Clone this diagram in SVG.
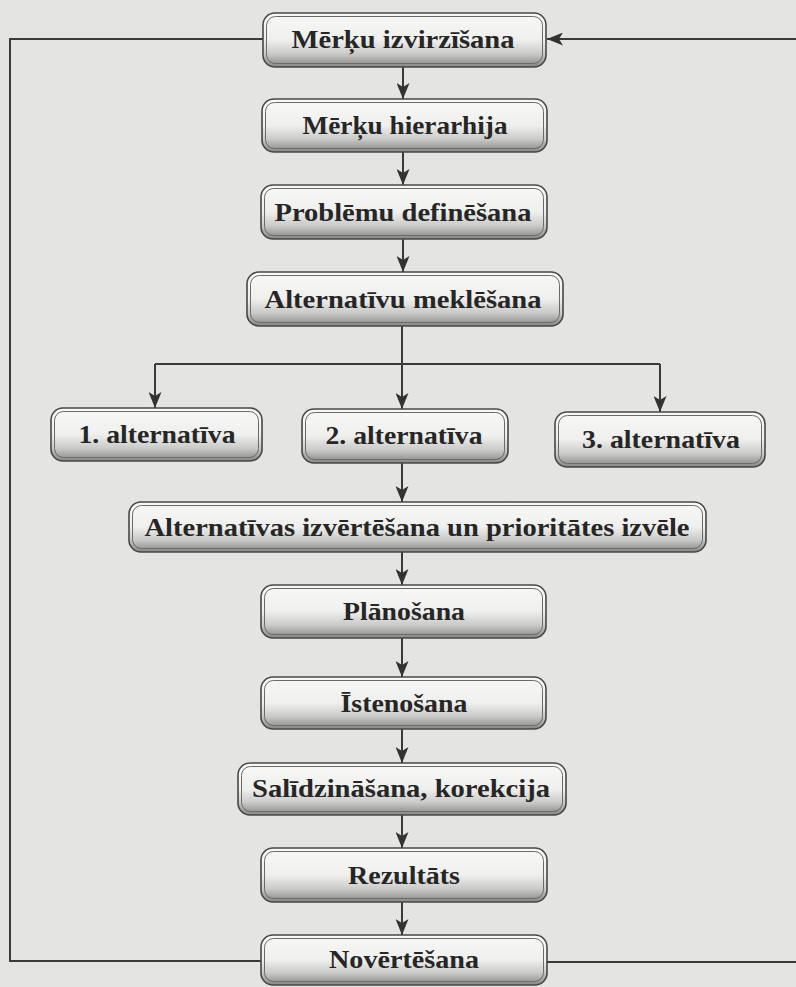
<svg xmlns="http://www.w3.org/2000/svg" width="796" height="987" viewBox="0 0 796 987">
  <style>
    .bg { fill: #e4e4e2; }
    .box-outer { fill: url(#boxFill); stroke: #474747; stroke-width: 1.6; }
    .box-inner { fill: none; stroke: #6a6a6a; stroke-width: 1; }
    .label { font-family: "Liberation Serif", "Times New Roman", serif; font-weight: bold; font-size: 26px; fill: #262626; text-anchor: middle; }
    .wire { fill: none; stroke: #3a3a3a; stroke-width: 2; }
    .arrow { fill: none; stroke: #3a3a3a; stroke-width: 2; marker-end: url(#head); }
  </style>
  <defs>
    <linearGradient id="boxFill" x1="0" y1="0" x2="0" y2="1">
      <stop offset="0" stop-color="#f8f8f6"/>
      <stop offset="0.5" stop-color="#efefed"/>
      <stop offset="0.76" stop-color="#c9c9c7"/>
      <stop offset="1" stop-color="#858583"/>
    </linearGradient>
    <marker id="head" markerUnits="userSpaceOnUse" markerWidth="16" markerHeight="13" refX="16" refY="6.5" orient="auto">
      <path d="M0,0 L16,6.5 L0,13 L4,6.5 Z" fill="#333"/>
    </marker>
  </defs>

  <rect class="bg" x="0" y="0" width="796" height="987"/>

  <!-- connectors -->
  <g id="connectors">
    <!-- feedback loop, left side -->
    <path class="wire" d="M263,39 H10 V961 H261"/>
    <!-- feedback loop, right side -->
    <path class="wire" d="M546,962 H796"/>
    <line class="arrow" x1="796" y1="39" x2="547" y2="39"/>
    <!-- main chain -->
    <line class="arrow" x1="403" y1="67" x2="403" y2="99"/>
    <line class="arrow" x1="403" y1="152" x2="403" y2="185"/>
    <line class="arrow" x1="403" y1="239" x2="403" y2="272"/>
    <!-- branch to alternatives -->
    <path class="wire" d="M402,326 V364 M155,364 H660"/>
    <line class="arrow" x1="155" y1="364" x2="155" y2="408"/>
    <line class="arrow" x1="402" y1="364" x2="402" y2="409"/>
    <line class="arrow" x1="660" y1="364" x2="660" y2="412"/>
    <line class="arrow" x1="402" y1="463" x2="402" y2="502"/>
    <line class="arrow" x1="402" y1="552" x2="402" y2="585"/>
    <line class="arrow" x1="402" y1="638" x2="402" y2="677"/>
    <line class="arrow" x1="402" y1="729" x2="402" y2="763"/>
    <line class="arrow" x1="402" y1="815" x2="402" y2="848"/>
    <line class="arrow" x1="402" y1="902" x2="402" y2="935"/>
  </g>

  <g id="n1">
    <rect class="box-outer" x="263" y="13" width="283" height="54" rx="12"/>
    <rect class="box-inner" x="266.5" y="16.5" width="276" height="47" rx="9"/>
    <text class="label" x="403" y="48" textLength="223" lengthAdjust="spacingAndGlyphs">Mērķu izvirzīšana</text>
  </g>
  <g id="n2">
    <rect class="box-outer" x="262" y="99" width="285" height="53" rx="12"/>
    <rect class="box-inner" x="265.5" y="102.5" width="278" height="46" rx="9"/>
    <text class="label" x="405" y="134" textLength="205" lengthAdjust="spacingAndGlyphs">Mērķu hierarhija</text>
  </g>
  <g id="n3">
    <rect class="box-outer" x="261" y="185" width="286" height="54" rx="12"/>
    <rect class="box-inner" x="264.5" y="188.5" width="279" height="47" rx="9"/>
    <text class="label" x="403" y="221" textLength="257" lengthAdjust="spacingAndGlyphs">Problēmu definēšana</text>
  </g>
  <g id="n4">
    <rect class="box-outer" x="247" y="272" width="316" height="54" rx="12"/>
    <rect class="box-inner" x="250.5" y="275.5" width="309" height="47" rx="9"/>
    <text class="label" x="403" y="308" textLength="277" lengthAdjust="spacingAndGlyphs">Alternatīvu meklēšana</text>
  </g>
  <g id="alt1">
    <rect class="box-outer" x="51" y="408" width="211" height="53" rx="12"/>
    <rect class="box-inner" x="54.5" y="411.5" width="204" height="46" rx="9"/>
    <text class="label" x="157" y="443" textLength="157" lengthAdjust="spacingAndGlyphs">1. alternatīva</text>
  </g>
  <g id="alt2">
    <rect class="box-outer" x="302" y="409" width="206" height="54" rx="12"/>
    <rect class="box-inner" x="305.5" y="412.5" width="199" height="47" rx="9"/>
    <text class="label" x="404" y="444" textLength="157" lengthAdjust="spacingAndGlyphs">2. alternatīva</text>
  </g>
  <g id="alt3">
    <rect class="box-outer" x="555" y="412" width="210" height="55" rx="12"/>
    <rect class="box-inner" x="558.5" y="415.5" width="203" height="48" rx="9"/>
    <text class="label" x="661" y="448" textLength="158" lengthAdjust="spacingAndGlyphs">3. alternatīva</text>
  </g>
  <g id="n5">
    <rect class="box-outer" x="129" y="502" width="577" height="50" rx="12"/>
    <rect class="box-inner" x="132.5" y="505.5" width="570" height="43" rx="9"/>
    <text class="label" x="417" y="536" textLength="545" lengthAdjust="spacingAndGlyphs">Alternatīvas izvērtēšana un prioritātes izvēle</text>
  </g>
  <g id="n6">
    <rect class="box-outer" x="261" y="585" width="285" height="53" rx="12"/>
    <rect class="box-inner" x="264.5" y="588.5" width="278" height="46" rx="9"/>
    <text class="label" x="404" y="620" textLength="122" lengthAdjust="spacingAndGlyphs">Plānošana</text>
  </g>
  <g id="n7">
    <rect class="box-outer" x="261" y="677" width="285" height="52" rx="12"/>
    <rect class="box-inner" x="264.5" y="680.5" width="278" height="45" rx="9"/>
    <text class="label" x="404" y="712" textLength="127" lengthAdjust="spacingAndGlyphs">Īstenošana</text>
  </g>
  <g id="n8">
    <rect class="box-outer" x="238" y="763" width="328" height="52" rx="12"/>
    <rect class="box-inner" x="241.5" y="766.5" width="321" height="45" rx="9"/>
    <text class="label" x="401" y="797" textLength="298" lengthAdjust="spacingAndGlyphs">Salīdzināšana, korekcija</text>
  </g>
  <g id="n9">
    <rect class="box-outer" x="261" y="848" width="286" height="54" rx="12"/>
    <rect class="box-inner" x="264.5" y="851.5" width="279" height="47" rx="9"/>
    <text class="label" x="404" y="884" textLength="112" lengthAdjust="spacingAndGlyphs">Rezultāts</text>
  </g>
  <g id="n10">
    <rect class="box-outer" x="261" y="935" width="286" height="50" rx="12"/>
    <rect class="box-inner" x="264.5" y="938.5" width="279" height="43" rx="9"/>
    <text class="label" x="404" y="968" textLength="150" lengthAdjust="spacingAndGlyphs">Novērtēšana</text>
  </g>
</svg>
